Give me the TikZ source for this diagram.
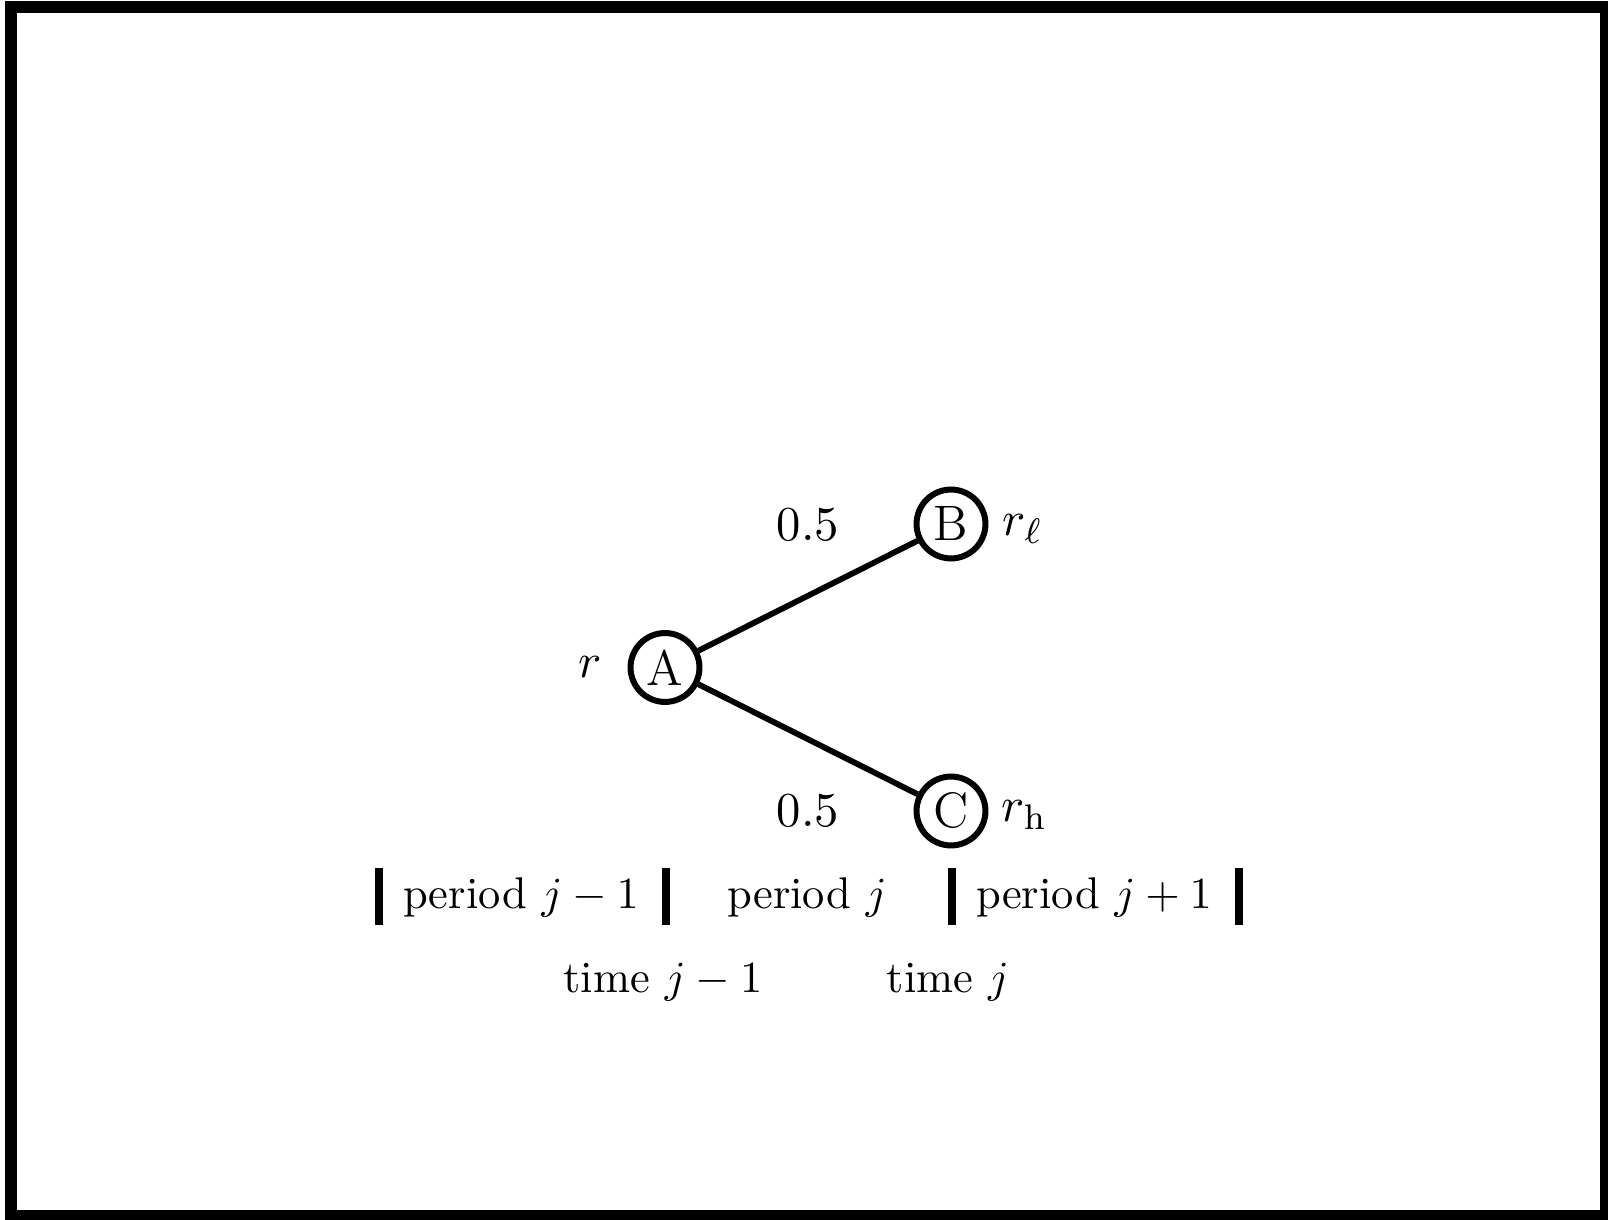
\documentclass[tikz,border=0pt]{standalone}
\begin{document}
\begin{tikzpicture}[x=0.225pt,y=-0.225pt,
  big/.style={font=\fontsize{11.2}{13.4}\selectfont},
  state/.style={circle,draw,big,line width=1.35pt,minimum size=15.5pt,inner sep=0pt},
  lbl/.style={inner sep=0pt},
  edge/.style={line width=1.3pt},
  bar/.style={line width=1.8pt}]
\useasboundingbox (0,0) rectangle (1608,1220);
\draw[line width=2.7pt] (11,7) rectangle (1606,1216);
\node[state] (A) at (665,667.5) {A};
\node[state] (B) at (951,524) {B};
\node[state] (C) at (951,811) {C};
\draw[edge] (A) -- (B);
\draw[edge] (A) -- (C);
\node[lbl,big,anchor=base east] (rA) at (603,678) {$r$};
\node[lbl,big,anchor=base west] (rB) at (1002,536) {$r_\ell$};
\node[lbl,big,anchor=base west] (rC) at (1001,822) {$r_{\mathrm{h}}$};
\node[lbl,big,anchor=base] (pB) at (808,540.5) {$0.5$};
\node[lbl,big,anchor=base] (pC) at (808,827) {$0.5$};
\coordinate (b1t) at (378.5,868); \coordinate (b1b) at (378.5,925);
\coordinate (b2t) at (665.5,868); \coordinate (b2b) at (665.5,925);
\coordinate (b3t) at (952,868);   \coordinate (b3b) at (952,925);
\coordinate (b4t) at (1239,868);  \coordinate (b4b) at (1239,925);
\draw[bar] (b1t) -- (b1b);
\draw[bar] (b2t) -- (b2b);
\draw[bar] (b3t) -- (b3b);
\draw[bar] (b4t) -- (b4b);
\node[lbl,anchor=base] (per1) at (521,909) {period $j-1$};
\node[lbl,anchor=base] (per2) at (807,909) {period $j$};
\node[lbl,anchor=base] (per3) at (1094,909) {period $j+1$};
\node[lbl,anchor=base] (t1) at (663,993) {time $j-1$};
\node[lbl,anchor=base] (t2) at (948,993) {time $j$};
\end{tikzpicture}
\end{document}
